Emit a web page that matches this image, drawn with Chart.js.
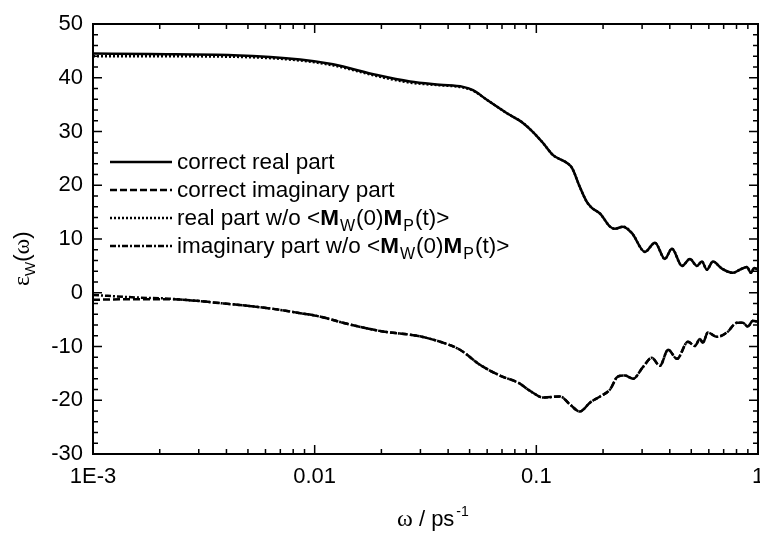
<!DOCTYPE html>
<html>
<head>
<meta charset="utf-8">
<script src="https://cdn.jsdelivr.net/npm/chart.js@4.4.1/dist/chart.umd.min.js"></script>
<style>
  html, body { margin: 0; padding: 0; background: #fff; }
  #wrap { width: 760px; height: 533px; }
</style>
</head>
<body>
<div id="wrap"><canvas id="eps_w" width="760" height="533"></canvas></div>
<script>
// omega in ps^-1
const omegaReal = [0.001, 0.0018, 0.0043, 0.0086, 0.0121, 0.0191, 0.0269, 0.0367, 0.0467, 0.0518,
  0.0598, 0.0737, 0.087, 0.0966, 0.107, 0.119, 0.137, 0.145, 0.157, 0.169,
  0.178, 0.194, 0.215, 0.226, 0.246, 0.270, 0.309, 0.343, 0.380, 0.409,
  0.454, 0.493, 0.530, 0.558, 0.588, 0.626, 0.687, 0.771, 0.829, 0.891,
  0.930, 0.960, 1.0];
const realCorrect = [44.5, 44.4, 44.2, 43.4, 42.5, 40.5, 39.3, 38.7, 38.3, 37.7,
  35.9, 33.4, 31.6, 29.9, 27.9, 25.6, 24.2, 23.2, 19.7, 16.9,
  15.8, 14.7, 12.3, 11.9, 12.3, 11.1, 7.6, 9.3, 6.3, 8.2,
  5.0, 6.3, 5.0, 5.8, 4.3, 5.8, 4.5, 3.7, 4.3, 4.8,
  3.7, 4.6, 4.3];
const realNoCross = [44.0, 44.0, 43.9, 43.2, 42.3, 40.3, 39.1, 38.6, 38.2, 37.6,
  35.9, 33.4, 31.6, 29.9, 27.9, 25.6, 24.2, 23.2, 19.7, 16.9,
  15.8, 14.7, 12.3, 11.9, 12.3, 11.1, 7.6, 9.3, 6.3, 8.2,
  5.0, 6.3, 5.0, 5.8, 4.3, 5.8, 4.5, 3.7, 4.3, 4.8,
  3.7, 4.6, 4.3];

const omegaImag = [0.001, 0.0016, 0.0022, 0.0039, 0.0065, 0.0086, 0.0102, 0.0144, 0.0203, 0.0289,
  0.0367, 0.0452, 0.0557, 0.0685, 0.0843, 0.0916, 0.0966, 0.107, 0.128, 0.142,
  0.157, 0.175, 0.194, 0.215, 0.233, 0.251, 0.273, 0.303, 0.332, 0.361,
  0.393, 0.431, 0.483, 0.519, 0.547, 0.564, 0.594, 0.653, 0.724, 0.803,
  0.855, 0.900, 0.948, 1.0];
const imagCorrect = [-1.3, -1.2, -1.2, -2.0, -3.0, -3.8, -4.3, -5.9, -7.2, -8.0,
  -9.1, -10.6, -13.4, -15.4, -16.9, -18.0, -18.6, -19.5, -19.3, -20.8,
  -22.1, -20.4, -19.3, -18.0, -15.6, -15.4, -16.0, -13.8, -12.1, -13.6,
  -10.6, -12.3, -9.1, -9.9, -8.6, -9.3, -7.4, -8.2, -7.4, -5.6,
  -5.6, -6.3, -5.2, -5.4];
const imagNoCross = [-0.4, -0.9, -1.1, -2.0, -3.0, -3.8, -4.3, -5.9, -7.2, -8.0,
  -9.1, -10.6, -13.4, -15.4, -16.9, -18.0, -18.6, -19.5, -19.3, -20.8,
  -22.1, -20.4, -19.3, -18.0, -15.6, -15.4, -16.0, -13.8, -12.1, -13.6,
  -10.6, -12.3, -9.1, -9.9, -8.6, -9.3, -7.4, -8.2, -7.4, -5.6,
  -5.6, -6.3, -5.2, -5.4];

// {M}_W -> bold M with subscript W
const seriesNames = [
  'correct real part',
  'correct imaginary part',
  'real part w/o <{M}_W(0){M}_P(t)>',
  'imaginary part w/o <{M}_W(0){M}_P(t)>'
];
const seriesDash = [[], [7, 3], [2, 2], [6, 2, 2, 2]];

const xMajorTicks = [0.001, 0.01, 0.1, 1];
const xMajorLabels = ['1E-3', '0.01', '0.1', '1'];
const xMinorSteps = [2, 3, 4, 5, 6, 7, 8, 9];
const yMajorTicks = [-30, -20, -10, 0, 10, 20, 30, 40, 50];
const yMinorStep = 2;

const SANS = "'Liberation Sans', Arial, Helvetica, sans-serif";
const SERIF = "'Liberation Serif', 'Times New Roman', serif";

const toPoints = (xs, ys) => xs.map((x, i) => ({ x: x, y: ys[i] }));

function xTickList() {
  const out = [];
  xMajorTicks.forEach((v, i) => {
    out.push({ value: v, major: true });
    if (i < xMajorTicks.length - 1) xMinorSteps.forEach(m => out.push({ value: +(v * m).toPrecision(3), major: false }));
  });
  return out;
}
function yTickList() {
  const out = [];
  for (let v = yMajorTicks[0]; v <= yMajorTicks[yMajorTicks.length - 1]; v += yMinorStep) {
    out.push({ value: v, major: yMajorTicks.includes(v) });
  }
  return out;
}

// frame + inward tick marks on all four sides
const frameTicks = {
  id: 'frameTicks',
  afterDraw(chart) {
    const c = chart.ctx, a = chart.chartArea;
    const sx = chart.scales.x, sy = chart.scales.y;
    c.save();
    c.strokeStyle = '#000';
    c.lineWidth = 2;
    c.strokeRect(a.left, a.top, a.right - a.left, a.bottom - a.top);
    c.lineWidth = 1.5;
    c.beginPath();
    sx.ticks.forEach(t => {
      const px = sx.getPixelForValue(t.value);
      const len = t.major ? 9 : 5;
      c.moveTo(px, a.bottom); c.lineTo(px, a.bottom - len);
      c.moveTo(px, a.top); c.lineTo(px, a.top + len);
    });
    sy.ticks.forEach(t => {
      const py = sy.getPixelForValue(t.value);
      const len = t.major ? 9 : 5;
      c.moveTo(a.left, py); c.lineTo(a.left + len, py);
      c.moveTo(a.right, py); c.lineTo(a.right - len, py);
    });
    c.stroke();
    c.restore();
  }
};

// draws a label with {M}_X markup, returns end x
function richText(c, str, x, y, size) {
  const parts = str.split(/(\{\w\}_\w)/);
  parts.forEach(p => {
    const m = p.match(/^\{(\w)\}_(\w)$/);
    if (m) {
      c.font = 'bold ' + size + 'px ' + SANS;
      c.fillText(m[1], x, y);
      x += c.measureText(m[1]).width;
      c.font = Math.round(size * 0.7) + 'px ' + SANS;
      c.fillText(m[2], x + 1, y + 6);
      x += c.measureText(m[2]).width + 2;
    } else if (p) {
      c.font = size + 'px ' + SANS;
      c.fillText(p, x, y);
      x += c.measureText(p).width;
    }
  });
  return x;
}

const insideLegend = {
  id: 'insideLegend',
  afterDatasetsDraw(chart) {
    const c = chart.ctx;
    c.save();
    c.fillStyle = '#000';
    c.textBaseline = 'alphabetic';
    chart.data.datasets.forEach((ds, i) => {
      const y = 162 + i * 28;
      c.strokeStyle = '#000';
      c.lineWidth = 2.5;
      c.setLineDash(ds.borderDash || []);
      c.beginPath();
      c.moveTo(110, y); c.lineTo(172, y);
      c.stroke();
      c.setLineDash([]);
      richText(c, seriesNames[i], 177, y + 7, 22.5);
    });
    c.restore();
  }
};

const axisTitles = {
  id: 'axisTitles',
  afterDraw(chart) {
    const c = chart.ctx;
    c.save();
    c.fillStyle = '#000';
    c.textBaseline = 'alphabetic';
    // x title: omega / ps^-1
    let x = 397;
    c.font = '24px ' + SERIF;
    c.fillText('\u03c9', x, 526); x += c.measureText('\u03c9').width;
    c.font = '22px ' + SANS;
    c.fillText(' / ps', x, 526); x += c.measureText(' / ps').width;
    c.font = '14px ' + SANS;
    c.fillText('-1', x + 2, 516);
    // y title: eps_W(omega), rotated
    c.translate(29, 286);
    c.rotate(-Math.PI / 2);
    let t = 0;
    c.font = '24px ' + SERIF;
    c.fillText('\u03b5', t, 0); t += c.measureText('\u03b5').width;
    c.font = '15px ' + SANS;
    c.fillText('W', t, 6); t += c.measureText('W').width;
    c.font = '22px ' + SANS;
    c.fillText('(', t, 0); t += c.measureText('(').width;
    c.font = '24px ' + SERIF;
    c.fillText('\u03c9', t, 0); t += c.measureText('\u03c9').width;
    c.font = '22px ' + SANS;
    c.fillText(')', t, 0);
    c.restore();
  }
};

const chartEl = document.getElementById('eps_w');

new Chart(chartEl, {
  type: 'line',
  data: {
    datasets: [
      { label: seriesNames[0], data: toPoints(omegaReal, realCorrect), borderDash: seriesDash[0], order: 1 },
      { label: seriesNames[1], data: toPoints(omegaImag, imagCorrect), borderDash: seriesDash[1], order: 1 },
      { label: seriesNames[2], data: toPoints(omegaReal, realNoCross), borderDash: seriesDash[2], order: 2 },
      { label: seriesNames[3], data: toPoints(omegaImag, imagNoCross), borderDash: seriesDash[3], order: 2 }
    ]
  },
  options: {
    responsive: false,
    animation: false,
    layout: { padding: { top: 24, right: 2, left: 0, bottom: 0 } },
    elements: {
      point: { radius: 0 },
      line: { borderColor: '#000', borderWidth: 2.5, cubicInterpolationMode: 'monotone', fill: false }
    },
    plugins: {
      legend: { display: false },
      tooltip: { enabled: false }
    },
    scales: {
      x: {
        type: 'logarithmic',
        min: 0.001,
        max: 1,
        grid: { display: false, drawTicks: false },
        border: { display: false },
        afterBuildTicks: s => { s.ticks = xTickList(); },
        afterFit: s => { s.height = 79; s.paddingLeft = 0; s.paddingRight = 0; },
        ticks: {
          autoSkip: false,
          maxRotation: 0,
          padding: 10,
          color: '#000',
          font: { family: SANS, size: 22 },
          callback: v => {
            const i = xMajorTicks.findIndex(m => Math.abs(m - v) < m * 1e-6);
            return i >= 0 ? xMajorLabels[i] : '';
          }
        }
      },
      y: {
        type: 'linear',
        min: -30,
        max: 50,
        grid: { display: false, drawTicks: false },
        border: { display: false },
        afterBuildTicks: s => { s.ticks = yTickList(); },
        afterFit: s => { s.width = 93; s.paddingTop = 0; s.paddingBottom = 0; },
        ticks: {
          autoSkip: false,
          padding: 10,
          color: '#000',
          font: { family: SANS, size: 22 },
          callback: v => yMajorTicks.includes(v) ? String(v) : ''
        }
      }
    }
  },
  plugins: [frameTicks, insideLegend, axisTitles]
});
</script>
</body>
</html>
